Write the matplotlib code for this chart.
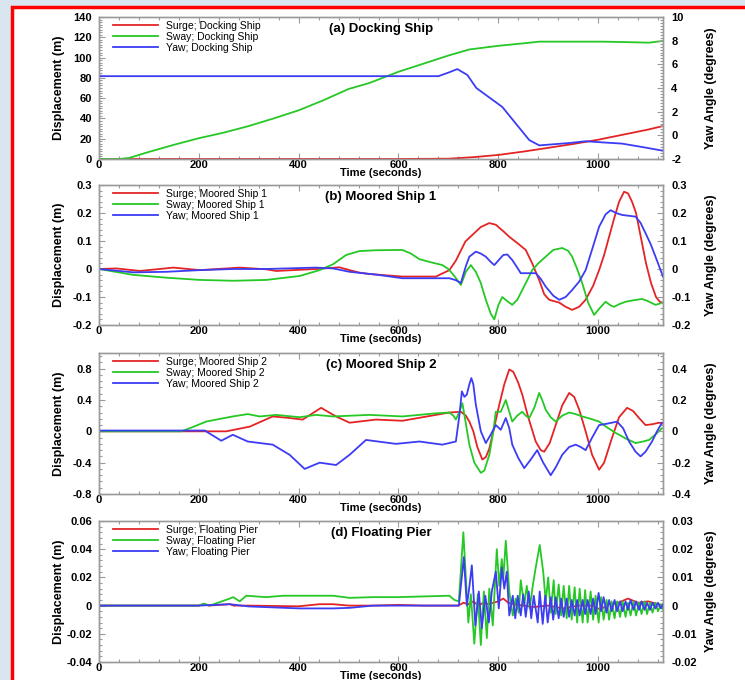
import matplotlib.pyplot as plt
from matplotlib.ticker import MultipleLocator, AutoMinorLocator, FuncFormatter
from matplotlib.patches import Rectangle

plt.rcParams['font.family'] = ['Liberation Sans', 'DejaVu Sans']

RED = '#e42424'
GREEN = '#25c825'
BLUE = '#3c3cf4'
GREY = '#9a9a9a'

# ---------------- (a) Docking Ship ----------------
a_surge_t = [0, 600, 700, 750, 800, 850, 900, 950, 1000, 1050, 1100, 1130]
a_surge = [0, 0, 0.3, 1.8, 4, 7.3, 11, 14.8, 19, 24, 29, 32.5]
a_sway_t = [0, 40, 60, 100, 150, 200, 250, 300, 350, 400, 450, 500, 542, 600,
            642, 700, 742, 802, 850, 882, 950, 1008, 1050, 1102, 1130]
a_sway = [0, 0, 1, 7, 14, 20.5, 26, 32.5, 40, 48, 58, 69, 75, 86,
          92.7, 102, 108, 111.7, 114, 115.7, 115.7, 115.7, 115.3, 114.7, 116.4]
a_yaw_t = [0, 680, 700, 718, 738, 756, 782, 808, 835, 862, 882, 942, 975,
           1010, 1048, 1090, 1130]
a_yaw = [5.0, 5.0, 5.3, 5.6, 5.1, 4.0, 3.2, 2.4, 1.0, -0.4, -0.85, -0.65,
         -0.5, -0.6, -0.7, -1.0, -1.3]

# ---------------- (b) Moored Ship 1 ----------------
b_surge_t = [0, 35, 82, 149, 202, 282, 335, 355, 435, 482, 502, 522, 542, 608,
             675, 702, 715, 734, 750, 765, 782, 795, 810, 822, 840, 855, 868,
             882, 892, 902, 912, 922, 935, 948, 962, 975, 990, 1002, 1012,
             1022, 1032, 1042, 1052, 1060, 1068, 1076, 1086, 1096, 1106, 1116,
             1124, 1130]
b_surge = [0, 0.002, -0.007, 0.005, -0.004, 0.005, -0.001, -0.007, 0, 0.006,
           -0.004, -0.013, -0.018, -0.027, -0.027, -0.004, 0.03, 0.098, 0.125,
           0.15, 0.164, 0.158, 0.135, 0.115, 0.09, 0.068, 0.02, -0.04, -0.09,
           -0.11, -0.115, -0.12, -0.135, -0.146, -0.135, -0.11, -0.06,
           -0.004, 0.05, 0.115, 0.18, 0.24, 0.276, 0.27, 0.24, 0.2, 0.11, 0.02,
           -0.05, -0.1, -0.118, -0.12]
b_sway_t = [0, 69, 135, 202, 269, 335, 402, 442, 469, 495, 522, 555, 608, 625,
            642, 665, 688, 700, 712, 725, 735, 745, 755, 765, 775, 785, 792,
            800, 808, 818, 828, 838, 848, 858, 868, 880, 895, 910, 928, 940,
            948, 958, 968, 980, 992, 1003, 1015, 1025, 1032, 1043, 1055, 1070,
            1088, 1100, 1115, 1130]
b_sway = [0, -0.021, -0.031, -0.039, -0.042, -0.039, -0.025, -0.004, 0.017,
          0.05, 0.064, 0.067, 0.068, 0.055, 0.035, 0.024, 0.014, 0.0, -0.025,
          -0.057, -0.01, 0.014, -0.01, -0.05, -0.11, -0.16, -0.18, -0.13, -0.1,
          -0.115, -0.128, -0.11, -0.075, -0.04, -0.004, 0.02, 0.044, 0.068,
          0.075, 0.065, 0.044, 0.0, -0.05, -0.12, -0.164, -0.14, -0.117, -0.13,
          -0.135, -0.125, -0.117, -0.112, -0.107, -0.115, -0.128, -0.12]
b_yaw_t = [0, 69, 135, 202, 269, 335, 435, 469, 502, 555, 608, 702, 715, 725,
           735, 742, 755, 765, 775, 785, 792, 800, 810, 818, 828, 838, 845,
           860, 875, 885, 895, 910, 922, 935, 948, 962, 975, 988, 1002, 1015,
           1025, 1036, 1048, 1062, 1075, 1085, 1095, 1105, 1115, 1130]
b_yaw = [0, -0.012, -0.01, -0.004, 0, 0, 0.005, 0.002, -0.01, -0.02, -0.033,
         -0.033, -0.04, -0.05, 0.01, 0.044, 0.062, 0.055, 0.044, 0.025, 0.014,
         0.03, 0.05, 0.052, 0.032, 0.005, -0.015, -0.015, -0.015, -0.035,
         -0.063, -0.095, -0.11, -0.1, -0.075, -0.045, -0.004, 0.07, 0.151,
         0.195, 0.21, 0.2, 0.193, 0.19, 0.187, 0.165, 0.128, 0.09, 0.044,
         -0.027]

# ---------------- (c) Moored Ship 2 ----------------
c_surge_t = [0, 255, 302, 348, 382, 408, 445, 475, 502, 555, 608, 675, 702,
             725, 735, 742, 750, 758, 768, 775, 782, 790, 802, 812, 822, 830,
             840, 848, 860, 875, 885, 892, 903, 915, 928, 942, 952, 962, 975,
             988, 1002, 1012, 1028, 1042, 1058, 1070, 1082, 1095, 1108, 1122,
             1130]
c_surge = [0, 0, 0.06, 0.19, 0.17, 0.15, 0.3, 0.19, 0.11, 0.15, 0.135, 0.21,
           0.24, 0.25, 0.2, 0.125, 0.0, -0.2, -0.36, -0.33, -0.22, 0.0, 0.34,
           0.6, 0.79, 0.76, 0.62, 0.47, 0.18, -0.13, -0.24, -0.26, -0.15, 0.08,
           0.33, 0.49, 0.44, 0.28, 0.0, -0.3, -0.49, -0.4, -0.08, 0.18, 0.3,
           0.26, 0.17, 0.08, 0.09, 0.11, 0.1]
c_sway_t = [0, 165, 182, 215, 235, 268, 298, 322, 355, 402, 435, 468, 542, 608,
            675, 702, 710, 715, 722, 728, 735, 742, 752, 765, 772, 782, 790,
            795, 805, 815, 822, 828, 838, 848, 855, 862, 872, 882, 888, 895,
            905, 915, 928, 942, 955, 968, 985, 1002, 1018, 1035, 1055, 1075,
            1090, 1102, 1115, 1128]
c_sway = [0, 0, 0.04, 0.125, 0.15, 0.19, 0.22, 0.19, 0.21, 0.18, 0.21, 0.19,
          0.21, 0.19, 0.23, 0.24, 0.2, 0.15, 0.25, 0.36, 0.1, -0.17, -0.4,
          -0.53, -0.5, -0.3, 0.0, 0.25, 0.25, 0.4, 0.25, 0.125, 0.2, 0.25, 0.2,
          0.17, 0.3, 0.49, 0.4, 0.275, 0.18, 0.125, 0.2, 0.24, 0.22, 0.19,
          0.16, 0.125, 0.05, -0.02, -0.09, -0.15, -0.13, -0.11, -0.04, 0.04]
c_yaw_t = [0, 212, 245, 268, 298, 348, 382, 412, 442, 475, 502, 535, 595, 642,
           688, 715, 722, 727, 732, 737, 742, 746, 750, 755, 765, 775, 785,
           795, 805, 815, 822, 828, 840, 852, 865, 878, 890, 905, 915, 928,
           942, 955, 965, 975, 988, 1002, 1020, 1038, 1050, 1062, 1075, 1085,
           1095, 1108, 1118, 1128]
c_yaw = [0.005, 0.005, -0.06, -0.022, -0.065, -0.085, -0.15, -0.24, -0.2,
         -0.215, -0.15, -0.055, -0.08, -0.065, -0.085, -0.065, 0.1, 0.255,
         0.22, 0.235, 0.3, 0.34, 0.3, 0.17, 0.0, -0.075, -0.02, 0.04, 0.01,
         0.085, 0.02, -0.085, -0.17, -0.235, -0.18, -0.12, -0.2, -0.28, -0.23,
         -0.15, -0.1, -0.085, -0.1, -0.12, -0.04, 0.04, 0.05, 0.062, 0.02,
         -0.065, -0.13, -0.16, -0.13, -0.065, 0.0, 0.055]

# ---------------- (d) Floating Pier ----------------
d_surge_t = [0, 200, 210, 220, 262, 270, 300, 400, 442, 469, 500, 550, 600,
             650, 700, 720, 730, 740, 750, 760, 770, 780, 790, 800, 810, 820,
             830, 850, 870, 900, 930, 960, 990, 1005, 1020, 1040, 1060, 1080,
             1100, 1130]
d_surge = [0, 0, 0.001, 0, 0.001, 0, 0, -0.0005, 0.001, 0.001, 0, 0, 0.0005, 0,
           0, 0, 0.002, 0.001, 0.003, 0.0, 0.002, 0.001, 0.002, 0.003, 0.005,
           0.002, 0.001, 0.0, -0.001, 0, -0.002, 0.0, 0.0, -0.003, 0.001,
           0.002, 0.005, 0.002, 0.003, 0.0]
d_sway_t = [0, 200, 210, 222, 262, 269, 282, 295, 335, 369, 402, 469, 502, 549,
            600, 650, 702, 712, 721, 730, 740, 745, 752, 759, 765, 771, 777,
            782, 789, 797, 802, 807, 810, 815, 822, 829, 835, 841, 845, 852,
            857, 863, 869, 875, 883, 890, 895, 900, 905, 911, 915, 921, 926,
            931, 937, 942, 947, 953, 958, 963, 969, 974, 979, 985, 990, 995,
            1001, 1006, 1011, 1017, 1022, 1027, 1033, 1038, 1044, 1049, 1055,
            1060, 1065, 1071, 1076, 1082, 1087, 1093, 1098, 1104, 1109, 1115,
            1120, 1126, 1130]
d_sway = [0, 0, 0.0014, 0, 0.005, 0.006, 0.003, 0.007, 0.006, 0.007, 0.007,
          0.007, 0.0055, 0.006, 0.006, 0.0065, 0.007, 0.004, 0.003, 0.052,
          -0.012, 0.008, -0.027, 0.008, -0.028, 0.01, -0.023, 0.012, -0.014,
          0.04, 0.014, 0.033, 0.019, 0.046, 0.01, -0.007, 0.005, -0.005, 0.018,
          0, 0.014, -0.002, 0.014, 0.027, 0.043, 0.024, 0.003, 0.02, -0.005,
          0.018, -0.006, 0.015, -0.007, 0.014, -0.009, 0.014, -0.01, 0.013,
          -0.012, 0.012, -0.012, 0.011, -0.012, 0.01, -0.01, 0.007, -0.012,
          0.006, -0.01, 0.004, -0.01, 0.003, -0.009, 0.003, -0.008, 0.003,
          -0.008, 0.002, -0.007, 0.003, -0.007, 0.002, -0.006, 0.003, -0.006,
          0.002, -0.005, 0.002, -0.004, 0.001, -0.003]
d_yaw_t = [0, 200, 262, 300, 402, 469, 502, 549, 600, 721, 731, 737, 742, 747,
           754, 761, 767, 774, 781, 787, 795, 801, 807, 812, 817, 822, 829,
           834, 839, 845, 850, 855, 861, 866, 871, 879, 883, 889, 894, 899,
           905, 910, 915, 921, 926, 931, 937, 942, 947, 953, 958, 963, 969,
           974, 979, 985, 990, 995, 1001, 1006, 1011, 1017, 1022, 1027, 1033,
           1038, 1044, 1049, 1055, 1060, 1065, 1071, 1076, 1082, 1087, 1093,
           1098, 1104, 1109, 1115, 1120, 1126, 1130]
d_yaw = [0, 0, 0.0005, -0.0003, -0.001, -0.001, -0.0008, 0, 0, 0, 0.0172, 0,
         0.0066, 0.0143, -0.007, 0.005, -0.008, 0.0035, -0.006, 0.005, 0.012,
         -0.001, 0.0135, 0.006, 0.012, -0.0035, 0.0035, -0.0045, 0.0035,
         -0.0035, 0.004, -0.004, 0.005, -0.0045, 0.0035, -0.006, 0.005,
         -0.0065, 0.0035, -0.006, 0.003, -0.005, 0.003, -0.0045, 0.0025,
         -0.004, 0.0025, -0.004, 0.002, -0.0035, 0.002, -0.0035, 0.002,
         -0.003, 0.002, -0.003, 0.0025, -0.003, 0.0045, -0.002, 0.003,
         -0.0025, 0.002, -0.002, 0.002, -0.002, 0.0015, -0.002, 0.0015,
         -0.0015, 0.002, -0.0015, 0.0015, -0.0015, 0.0015, -0.0015, 0.001,
         -0.0015, 0.001, -0.001, 0.001, -0.001, 0.0005]


def tick_fmt(v, pos):
    s = '%g' % round(v, 6)
    return '0' if s in ('0', '-0') else s


def style_axis(ax):
    for sp in ax.spines.values():
        sp.set_color(GREY)
        sp.set_linewidth(1.0)
    ax.tick_params(which='both', direction='in', color=GREY,
                   labelsize=8, width=0.8)
    ax.tick_params(which='major', length=4)
    ax.tick_params(which='minor', length=2)
    for lab in ax.get_yticklabels() + ax.get_xticklabels():
        lab.set_fontweight('bold')


def draw_panel(rect, title, name, surge, sway, yaw,
               left_lim, left_step, right_lim, right_step, minor_n):
    ax = fig.add_axes(rect)
    ax2 = ax.twinx()

    l1, = ax.plot(surge[0], surge[1], color=RED, lw=1.3)
    l2, = ax.plot(sway[0], sway[1], color=GREEN, lw=1.3)
    l3, = ax2.plot(yaw[0], yaw[1], color=BLUE, lw=1.3)

    ax.set_xlim(0, 1130)
    ax.set_ylim(*left_lim)
    ax2.set_ylim(*right_lim)

    ax.xaxis.set_major_locator(MultipleLocator(200))
    ax.xaxis.set_minor_locator(MultipleLocator(40))
    ax.yaxis.set_major_locator(MultipleLocator(left_step))
    ax.yaxis.set_minor_locator(AutoMinorLocator(minor_n))
    ax2.yaxis.set_major_locator(MultipleLocator(right_step))
    ax2.yaxis.set_minor_locator(AutoMinorLocator(minor_n))
    ax.yaxis.set_major_formatter(FuncFormatter(tick_fmt))
    ax2.yaxis.set_major_formatter(FuncFormatter(tick_fmt))

    ax.tick_params(axis='x', which='both', top=True, pad=1)
    ax.tick_params(axis='y', pad=5)
    ax2.tick_params(axis='y', pad=6)
    style_axis(ax)
    style_axis(ax2)

    ax.set_xlabel('Time (seconds)', fontsize=8, fontweight='bold', labelpad=-2)
    ax.set_ylabel('Displacement (m)', fontsize=9, fontweight='bold')
    ax2.set_ylabel('Yaw Angle (degrees)', fontsize=9, fontweight='bold')
    ax.yaxis.set_label_coords(-0.061, 0.5)
    ax2.yaxis.set_label_coords(1.075, 0.5)

    ax.text(0.5, 0.915, title, transform=ax.transAxes, ha='center',
            va='center', fontsize=9.5, fontweight='bold')

    ax2.legend([l1, l2, l3],
               ['Surge; ' + name, 'Sway; ' + name, 'Yaw; ' + name],
               loc='upper left', bbox_to_anchor=(0.025, 0.975),
               frameon=False, fontsize=7.5, handlelength=4.3,
               handletextpad=0.8, labelspacing=0.1, borderpad=0,
               borderaxespad=0)
    return ax


fig = plt.figure(figsize=(7.45, 6.8), dpi=100)
fig.patch.set_facecolor('#d9e6f0')
frame = Rectangle((12 / 745, -0.05), 1.1, 0.05 + 1 - 7 / 680,
                  transform=fig.transFigure, facecolor='white',
                  edgecolor='#ff0000', linewidth=2.5, zorder=-5)
fig.add_artist(frame)

left = 99 / 745
width = (663 - 99) / 745

draw_panel([left, 1 - 159 / 680, width, 142 / 680], '(a) Docking Ship',
           'Docking Ship', (a_surge_t, a_surge), (a_sway_t, a_sway),
           (a_yaw_t, a_yaw), (0, 140), 20, (-2, 10), 2, 8)
draw_panel([left, 1 - 325 / 680, width, 140 / 680], '(b) Moored Ship 1',
           'Moored Ship 1', (b_surge_t, b_surge), (b_sway_t, b_sway),
           (b_yaw_t, b_yaw), (-0.2, 0.3), 0.1, (-0.2, 0.3), 0.1, 5)
draw_panel([left, 1 - 494 / 680, width, 141 / 680], '(c) Moored Ship 2',
           'Moored Ship 2', (c_surge_t, c_surge), (c_sway_t, c_sway),
           (c_yaw_t, c_yaw), (-0.8, 1.0), 0.4, (-0.4, 0.5), 0.2, 5)
draw_panel([left, 1 - 662 / 680, width, 141 / 680], '(d) Floating Pier',
           'Floating Pier', (d_surge_t, d_surge), (d_sway_t, d_sway),
           (d_yaw_t, d_yaw), (-0.04, 0.06), 0.02, (-0.02, 0.03), 0.01, 5)

fig.savefig('out.png', dpi=100, facecolor=fig.get_facecolor())
